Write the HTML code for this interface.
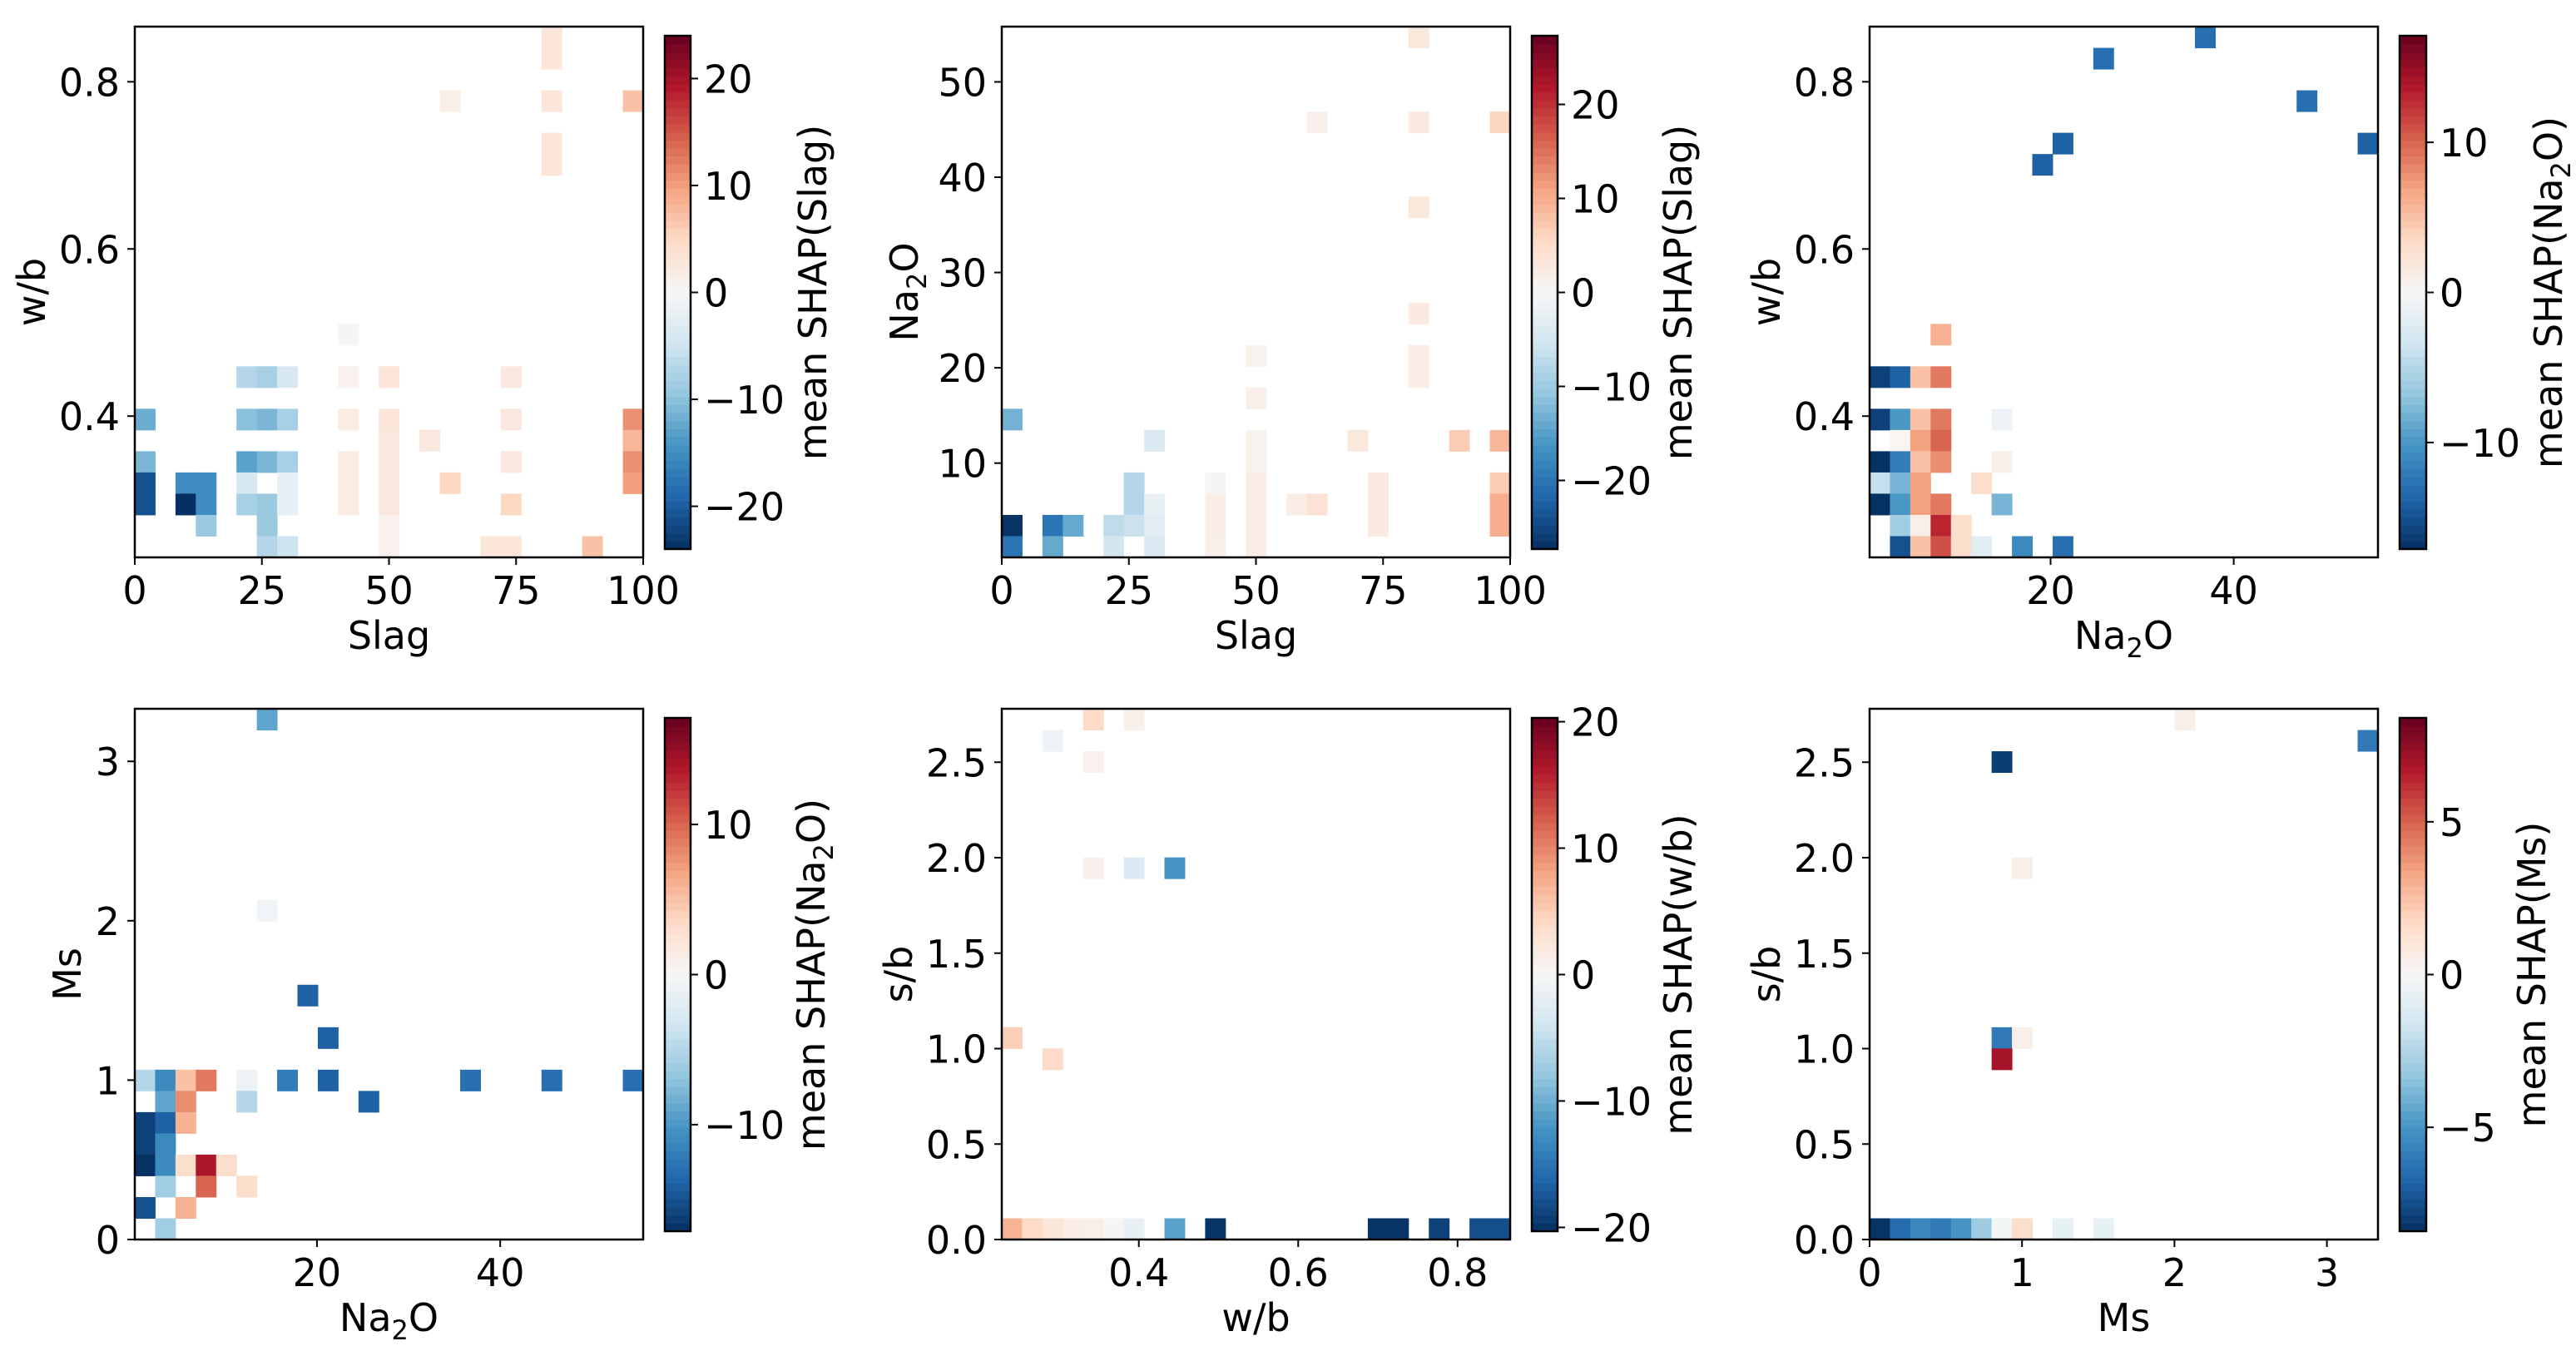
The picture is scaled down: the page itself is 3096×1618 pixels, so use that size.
<!DOCTYPE html>
<html><head><meta charset="utf-8"><style>
html,body{margin:0;padding:0;background:#fff;}
svg{display:block;font-family:"DejaVu Sans","Liberation Sans",sans-serif;}
</style></head><body>
<svg id="fig" width="3096" height="1618" viewBox="0 0 3096 1618" xmlns="http://www.w3.org/2000/svg"></svg>
<script>
// ---- data: cells as [col, row, meanSHAP] on a 25x25 bin grid ----
const p1Cells = [[20,24,3],[20,23,3],[20,21,3],[20,19,3],[20,18,3],[15,21,1.5],[24,21,7],
[10,10,0.3],[10,8,1],[10,6,2],[10,4,2],[10,3,2],[10,2,2],
[12,8,3],[12,6,3],[12,5,2.5],[12,4,2.5],[12,3,2.5],[12,2,2.5],[12,1,1],[12,0,1],
[14,5,2.5],[15,3,5],[18,8,2.5],[18,6,2.5],[18,4,2.5],[18,2,5],[18,0,3],[17,0,3],[22,0,7],
[24,6,11],[24,5,8],[24,4,11],[24,3,10],
[0,6,-12],[0,4,-11],[0,3,-21],[0,2,-21],[2,3,-15],[2,2,-24],[3,3,-15],[3,2,-15],[3,1,-9],
[5,8,-7],[5,6,-10],[5,4,-13],[5,3,-4],[5,2,-8],
[6,8,-8],[6,6,-11],[6,4,-11],[6,2,-9],[6,1,-9],[6,0,-7],
[7,8,-4],[7,6,-8],[7,4,-8],[7,3,-2],[7,2,-2],[7,0,-5]];
const p2Cells = [[20,24,3],[20,20,2.5],[20,16,3],[20,11,2.5],[20,9,2],[20,8,2],[15,20,1.5],
[24,20,6],[24,5,9],[24,3,7],[24,2,10],[24,1,10],
[12,9,1],[12,7,1.5],[12,5,1],[12,4,1],[12,3,2],[12,2,2],[12,1,2],[12,0,2],
[10,3,0.3],[10,2,2],[10,1,2],[10,0,1.5],
[14,2,2],[15,2,4],[17,5,3],[18,3,2.5],[18,2,2.5],[18,1,2.5],[22,5,7],
[0,6,-13],[0,1,-27],[0,0,-20],[2,1,-20],[2,0,-14],[3,1,-14],[5,1,-7],[5,0,-5],
[6,3,-8],[6,2,-8],[6,1,-6],[7,5,-4],[7,2,-2],[7,1,-3],[7,0,-4]];
const p3Cells = [[16,24,-13],[11,23,-13],[21,21,-13],[9,19,-14],[8,18,-14],[24,19,-14],[3,10,6],
[0,8,-16],[1,8,-14],[2,8,5],[3,8,9],
[0,6,-16],[1,6,-10],[2,6,5],[3,6,9],[6,6,-1],
[1,5,0.3],[2,5,7],[3,5,10],
[0,4,-17],[1,4,-12],[2,4,5],[3,4,8],[6,4,1],
[0,3,-4],[1,3,-8],[2,3,7],[5,3,3],
[0,2,-17],[1,2,-10],[2,2,7],[3,2,9],[6,2,-8],
[1,1,-6],[2,1,1],[3,1,13],[4,1,3],
[1,0,-15],[2,0,5],[3,0,11],[4,0,3],[5,0,-2],[7,0,-11],[9,0,-13]];
const p4Cells = [[6,24,-9],[6,15,-0.5],[8,11,-14],[9,9,-14],
[0,7,-5],[1,7,-11],[2,7,5],[3,7,9],[5,7,-1],[7,7,-12],[9,7,-14],[16,7,-13],[20,7,-13],[24,7,-13],
[1,6,-9],[2,6,8],[5,6,-5],[11,6,-14],
[0,5,-16],[1,5,-14],[2,5,6],[0,4,-16],[1,4,-11],
[0,3,-17],[1,3,-11],[2,3,3],[3,3,14],[4,3,3],
[1,2,-6],[3,2,10],[5,2,3],[0,1,-15],[2,1,6],[1,0,-6]];
const p5Cells = [[4,24,4],[6,24,1],[2,23,-1],[4,22,0.8],[4,17,1],[6,17,-3],[8,17,-12],[0,9,5],[2,8,4],
[0,0,7],[1,0,4],[2,0,2.5],[3,0,1.5],[4,0,1.2],[5,0,0.3],[6,0,-1.5],[8,0,-11],[10,0,-20],
[18,0,-20],[19,0,-20],[21,0,-19],[23,0,-18],[24,0,-18]];
const p6Cells = [[15,24,0.5],[24,23,-6],[6,22,-8],[7,17,0.5],[6,9,-6],[7,9,0.5],[6,8,7],
[0,0,-8.3],[1,0,-6.5],[2,0,-5.5],[3,0,-6],[4,0,-5],[5,0,-3],[6,0,-0.2],[7,0,1.5],[9,0,-0.7],[11,0,-0.7]];
// ticks
const slagTicks = [0,25,50,75,100];
const wbTicks = [0.4,0.6,0.8];
const na2oYTicks = [10,20,30,40,50];
const na2oXTicks = [20,40];
const msYTicks = [0,1,2,3];
const sbTicks = [0.0,0.5,1.0,1.5,2.0,2.5];
const msXTicks = [0,1,2,3];
const cb1Ticks = [-20,-10,0,10,20];
const cb3Ticks = [-10,0,10];
const cb6Ticks = [-5,0,5];

const RDBU = ['#053061','#2166ac','#4393c3','#92c5de','#d1e5f0','#f7f7f7','#fddbc7','#f4a582','#d6604d','#b2182b','#67001f'];
function hex(h){return [1,3,5].map(i=>parseInt(h.substr(i,2),16));}
function cmap(t){t=Math.max(0,Math.min(1,t));const s=t*10,i=Math.min(9,Math.floor(s)),f=s-i;
 const a=hex(RDBU[i]),b=hex(RDBU[i+1]);return 'rgb('+a.map((v,k)=>Math.round(v+(b[k]-v)*f)).join(',')+')';}

const NS='http://www.w3.org/2000/svg';
const svg=document.getElementById('fig');
function mk(tag,attrs,parent){const e=document.createElementNS(NS,tag);for(const k in attrs)e.setAttribute(k,attrs[k]);(parent||svg).appendChild(e);return e;}
function fmt(v,d){let s=v.toFixed(d);return s.replace('-','\u2212');}
function label(parent,x,y,txt,opts){
 const t=mk('text',Object.assign({x:x,y:y,'font-size':46,fill:'#000'},opts||{}),parent);
 const parts=txt.split('_2');
 t.appendChild(document.createTextNode(parts[0]));
 if(parts.length>1){const s=mk('tspan',{'font-size':32,dy:10},t);s.textContent='2';
  const r=mk('tspan',{dy:-10},t);r.textContent=parts[1];}
 return t;
}

const panels=[
 {id:'slag-vs-wb',L:162,T:32,R:773,B:670,xr:[0,100],yr:[0.231,0.866],xt:slagTicks,xd:0,yt:wbTicks,yd:1,cells:p1Cells,
  cb:[799,830,43,660],vr:24,cbt:cb1Ticks,xl:'Slag',yl:'w/b',yx:38,cl:'mean SHAP(Slag)',clx:977},
 {id:'slag-vs-na2o',L:1204,T:32,R:1815,B:670,xr:[0,100],yr:[0.11,55.8],xt:slagTicks,xd:0,yt:na2oYTicks,yd:0,cells:p2Cells,
  cb:[1841,1872,43,660],vr:27.3,cbt:cb1Ticks,xl:'Slag',yl:'Na_2O',yx:1087,cl:'mean SHAP(Slag)',clx:2017},
 {id:'na2o-vs-wb',L:2247,T:32,R:2858,B:670,xr:[0.24,55.75],yr:[0.231,0.866],xt:na2oXTicks,xd:0,yt:wbTicks,yd:1,cells:p3Cells,
  cb:[2884,2916,43,660],vr:17.1,cbt:cb3Ticks,xl:'Na_2O',yl:'w/b',yx:2123,cl:'mean SHAP(Na_2O)',clx:3063},
 {id:'na2o-vs-ms',L:162,T:852,R:773,B:1490,xr:[0.12,55.6],yr:[0,3.33],xt:na2oXTicks,xd:0,yt:msYTicks,yd:0,cells:p4Cells,
  cb:[799,830,863,1480],vr:17.1,cbt:cb3Ticks,xl:'Na_2O',yl:'Ms',yx:81,cl:'mean SHAP(Na_2O)',clx:975},
 {id:'wb-vs-sb',L:1204,T:852,R:1815,B:1490,xr:[0.228,0.866],yr:[0,2.78],xt:wbTicks,xd:1,yt:sbTicks,yd:1,cells:p5Cells,
  cb:[1841,1872,863,1480],vr:20.3,cbt:cb1Ticks,xl:'w/b',yl:'s/b',yx:1080,cl:'mean SHAP(w/b)',clx:2017},
 {id:'ms-vs-sb',L:2247,T:852,R:2858,B:1490,xr:[0,3.335],yr:[0,2.78],xt:msXTicks,xd:0,yt:sbTicks,yd:1,cells:p6Cells,
  cb:[2884,2916,863,1480],vr:8.4,cbt:cb6Ticks,xl:'Ms',yl:'s/b',yx:2123,cl:'mean SHAP(Ms)',clx:3043}
];

panels.forEach(p=>{
 const g=mk('g',{});
 
 
 const sx=v=>p.L+(v-p.xr[0])/(p.xr[1]-p.xr[0])*(p.R-p.L);
 const sy=v=>p.B-(v-p.yr[0])/(p.yr[1]-p.yr[0])*(p.B-p.T);
 const bw=(p.xr[1]-p.xr[0])/25, bh=(p.yr[1]-p.yr[0])/25;
 const cg=mk('g',{},g);
 
 
 p.cells.forEach(c=>{
  const x0=sx(p.xr[0]+c[0]*bw),x1=sx(p.xr[0]+(c[0]+1)*bw),y0=sy(p.yr[0]+(c[1]+1)*bh),y1=sy(p.yr[0]+c[1]*bh);
  const r=mk('rect',{x:x0,y:y0,width:x1-x0+0.5,height:y1-y0+0.5,fill:cmap((c[2]+p.vr)/(2*p.vr))},cg);
  
  
 });
 const fr=mk('rect',{x:p.L,y:p.T,width:p.R-p.L,height:p.B-p.T,fill:'none',stroke:'#000','stroke-width':2.5},g);
 
 
 p.xt.forEach(v=>{const x=sx(v);mk('line',{x1:x,x2:x,y1:p.B,y2:p.B+9,stroke:'#000','stroke-width':2},g);
  const t=label(g,x,p.B+56,fmt(v,p.xd),{'text-anchor':'middle'});
  
  });
 p.yt.forEach(v=>{const y=sy(v);mk('line',{x1:p.L-9,x2:p.L,y1:y,y2:y,stroke:'#000','stroke-width':2},g);
  const t=label(g,p.L-18,y+17,fmt(v,p.yd),{'text-anchor':'end'});
  
  });
 const xl=label(g,(p.L+p.R)/2,p.B+110,p.xl,{'text-anchor':'middle'});
 
 
 const cy=(p.T+p.B)/2;
 const yl=label(g,p.yx,cy,p.yl,{'text-anchor':'middle',transform:'rotate(-90 '+p.yx+' '+cy+')',dy:16});
 
 
 // colorbar
 const [cx0,cx1,cy0,cy1]=p.cb;
 const cbg=mk('g',{},g);
 
 
 const n=64;
 for(let i=0;i<n;i++){const y=cy1-(i+1)*(cy1-cy0)/n;
  mk('rect',{x:cx0,y:y,width:cx1-cx0,height:(cy1-cy0)/n+0.6,fill:cmap((i+0.5)/n)},cbg);}
 mk('rect',{x:cx0,y:cy0,width:cx1-cx0,height:cy1-cy0,fill:'none',stroke:'#000','stroke-width':2.5},cbg);
 const cs=v=>cy1-(v+p.vr)/(2*p.vr)*(cy1-cy0);
 p.cbt.forEach(v=>{const y=cs(v);mk('line',{x1:cx1,x2:cx1+9,y1:y,y2:y,stroke:'#000','stroke-width':2},cbg);
  const t=label(cbg,cx1+16,y+17,fmt(v,0),{'text-anchor':'start'});
  
  });
 const ccy=(cy0+cy1)/2;
 const cl=label(g,p.clx,ccy,p.cl,{'text-anchor':'middle',transform:'rotate(-90 '+p.clx+' '+ccy+')',dy:16});
 
 
});
</script>
</body></html>
